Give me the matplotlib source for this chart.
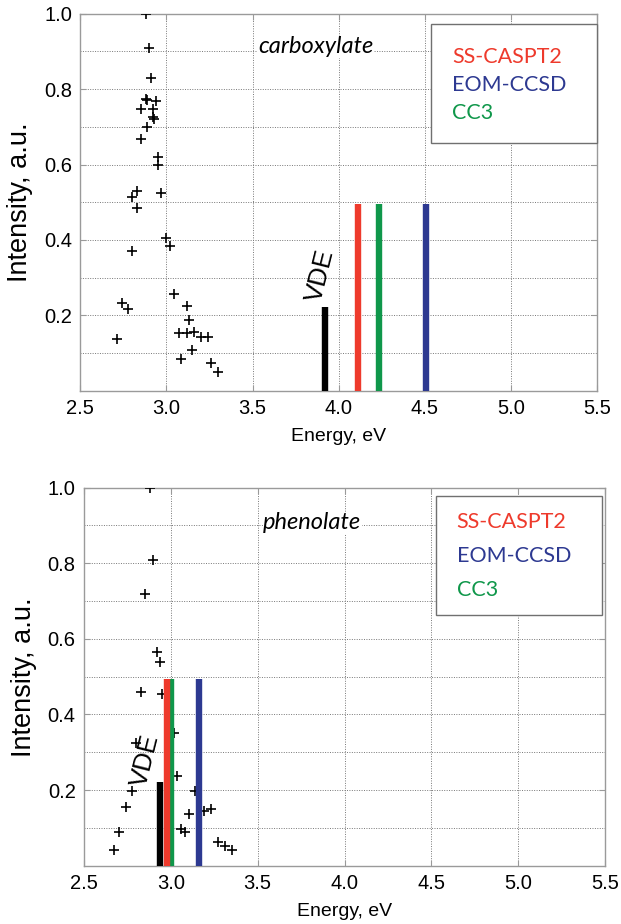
import matplotlib
matplotlib.use("Agg")
import matplotlib.pyplot as plt
from matplotlib.patches import Rectangle
from matplotlib.ticker import MultipleLocator

plt.rcParams["font.family"] = ["Liberation Sans", "DejaVu Sans"]

# ---- datos ----
# espectro de fotoelectrones (cruces), carboxilato
carb_e = [2.88, 2.90, 2.91, 2.88, 2.89, 2.94, 2.85, 2.92, 2.92, 2.93, 2.89, 2.85,
          2.95, 2.95, 2.83, 2.97, 2.80, 2.83, 3.00, 3.02, 2.80, 3.045, 2.74, 2.775,
          3.12, 3.13, 2.715, 3.076, 3.12, 3.16, 3.20, 3.24, 3.15, 3.085, 3.26, 3.30]
carb_i = [1.00, 0.91, 0.83, 0.775, 0.77, 0.768, 0.747, 0.747, 0.727, 0.72, 0.70, 0.668,
          0.621, 0.60, 0.53, 0.525, 0.513, 0.484, 0.404, 0.384, 0.371, 0.256, 0.232, 0.216,
          0.225, 0.189, 0.136, 0.152, 0.152, 0.157, 0.142, 0.142, 0.108, 0.083, 0.073, 0.05]

# fenolato
fen_e = [2.88, 2.90, 2.85, 2.92, 2.94, 2.83, 2.95, 3.02, 2.80, 3.035, 2.775, 2.74,
         2.70, 2.675, 3.14, 3.105, 3.19, 3.23, 3.06, 3.08, 3.27, 3.31, 3.35]
fen_i = [1.00, 0.81, 0.72, 0.565, 0.54, 0.46, 0.455, 0.35, 0.325, 0.237, 0.197, 0.155,
         0.088, 0.042, 0.197, 0.138, 0.145, 0.15, 0.097, 0.089, 0.063, 0.053, 0.042]

# energias calculadas (eV): VDE, SS-CASPT2, CC3, EOM-CCSD
metodos = ["SS-CASPT2", "EOM-CCSD", "CC3"]
carb_vde = 3.92
carb_calc = {"SS-CASPT2": 4.11, "CC3": 4.235, "EOM-CCSD": 4.505}
fen_vde = 2.935
fen_calc = {"CC3": 3.00, "SS-CASPT2": 2.98, "EOM-CCSD": 3.16}
altura_vde = 0.222
altura_calc = 0.495

x_ticks = [2.5, 3.0, 3.5, 4.0, 4.5, 5.0, 5.5]
y_ticks = [0.2, 0.4, 0.6, 0.8, 1.0]

COLORES = {"SS-CASPT2": "#ee3a2c", "EOM-CCSD": "#2d3991", "CC3": "#0f974a"}
GRIS = "#9a9a9a"


def panel(ax, e, i, vde, calc, titulo, pos_vde, caja, ytxt, x_titulo, y_titulo):
    ax.set_xlim(2.5, 5.5)
    ax.set_ylim(0, 1.0)
    ax.set_xticks(x_ticks)
    ax.set_xticklabels([f"{t:.1f}" for t in x_ticks])
    ax.set_yticks(y_ticks)
    ax.set_yticklabels([f"{t:.1f}" for t in y_ticks])
    ax.yaxis.set_minor_locator(MultipleLocator(0.1))
    ax.grid(True, which="both", linestyle=(0, (1, 1.5)), color="#777777", linewidth=0.7)
    ax.tick_params(which="both", direction="in", length=4, color=GRIS,
                   top=True, right=True, labelsize=14.5, pad=6)
    ax.tick_params(which="minor", length=0)
    for s in ax.spines.values():
        s.set_color(GRIS)
        s.set_linewidth(1.0)

    ax.plot(e, i, "+", color="black", ms=7.5, mew=1.2, zorder=3)

    # barras verticales de las energias calculadas
    ax.vlines(vde, 0, altura_vde, color="black", lw=4.6, zorder=4, capstyle="butt")
    for m in ["CC3", "SS-CASPT2", "EOM-CCSD"]:
        ax.vlines(calc[m], 0, altura_calc, color=COLORES[m], lw=4.6, zorder=4,
                  capstyle="butt")

    ax.text(pos_vde[0], pos_vde[1], "VDE", rotation=76, fontsize=18.5,
            ha="center", va="center", zorder=5)
    ax.text(x_titulo, y_titulo, titulo, transform=ax.transAxes, fontsize=17,
            family="Lato", style="italic", ha="left", va="center", zorder=5,
            bbox=dict(facecolor="white", edgecolor="none", pad=0.5))

    # caja de leyenda
    x0, y0, x1, y1 = caja
    ax.add_patch(Rectangle((x0, y0), x1 - x0, y1 - y0, transform=ax.transAxes,
                           facecolor="white", edgecolor="#707070", lw=1.0,
                           zorder=6, clip_on=False))
    for m, yy in zip(metodos, ytxt):
        ax.text(x0 + 0.04, yy, m, transform=ax.transAxes, color=COLORES[m],
                fontsize=15.5, family="Lato", ha="left", va="center", zorder=7)

    ax.set_xlabel("Energy, eV", fontsize=14, labelpad=7)
    ax.set_ylabel("Intensity, a.u.", fontsize=19.5, labelpad=8)


fig = plt.figure(figsize=(6.21, 9.24), dpi=100)
ax1 = fig.add_axes([0.1293, 0.5771, 0.8320, 0.4080])
ax2 = fig.add_axes([0.1353, 0.0631, 0.8390, 0.4091])

panel(ax1, carb_e, carb_i, carb_vde, carb_calc, "carboxylate",
      (3.894, 0.304), (0.679, 0.657, 1.0, 0.973), [0.885, 0.811, 0.737], 0.344, 0.912)
panel(ax2, fen_e, fen_i, fen_vde, fen_calc, "phenolate",
      (2.852, 0.277), (0.675, 0.663, 0.995, 0.978), [0.910, 0.819, 0.729], 0.344, 0.907)

fig.savefig("out.png", dpi=100)
